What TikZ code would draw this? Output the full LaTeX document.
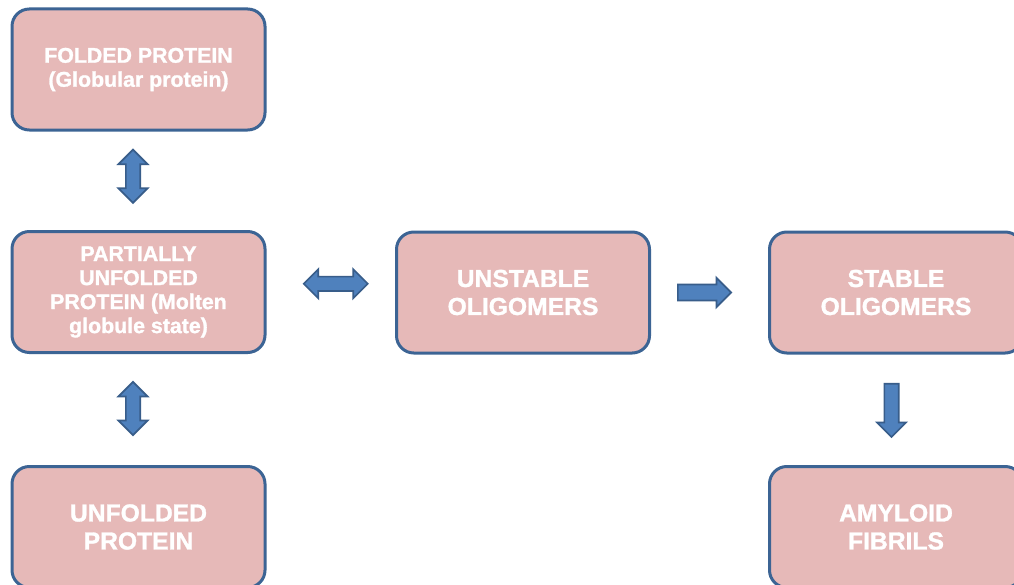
\documentclass[tikz,border=0pt]{standalone}
\usepackage{fontspec}
\setmainfont{Liberation Sans}[BoldFeatures={FakeBold=1.3}]
\usetikzlibrary{shapes.arrows,calc}
\definecolor{boxfill}{HTML}{E6B9B8}
\definecolor{boxline}{HTML}{3C6494}
\definecolor{arrfill}{HTML}{4F81BD}
\definecolor{arrline}{HTML}{385D8A}
\begin{document}
\begin{tikzpicture}[x=0.75pt,y=-0.75pt,
  stagebox/.style={draw=boxline, fill=boxfill, line width=2.25pt, rounded corners=13pt,
    minimum width=189.75pt, minimum height=90.75pt, inner sep=0pt, align=center,
    text=white, font=\bfseries\fontsize{16}{18}\selectfont},
  bigtext/.style={font=\bfseries\fontsize{18.5}{21}\selectfont},
  blockarrow/.style={draw=arrline, fill=arrfill, line width=1.3pt, inner sep=0pt,
    inner ysep=4.7pt, minimum height=40pt},
  dblarrow/.style={blockarrow, double arrow, double arrow head extend=5.6pt},
  sglarrow/.style={blockarrow, single arrow, single arrow head extend=5.6pt}
]
\useasboundingbox (0,0) rectangle (1014,585);
\fill[white] (0,0) rectangle (1014,585);
\clip (0,0) rectangle (1014,585);

\node[stagebox] (folded) at (138.5,69.5) {FOLDED PROTEIN\\(Globular protein)};
\node[stagebox] (partial) at (138.5,292) {PARTIALLY\\UNFOLDED\\PROTEIN (Molten\\globule state)};
\node[stagebox, bigtext] (unfolded) at (138.5,527) {UNFOLDED\\PROTEIN};
\node[stagebox, bigtext] (unstable) at (523,292.5) {UNSTABLE\\OLIGOMERS};
\node[stagebox, bigtext] (stable) at (896,292.5) {STABLE\\OLIGOMERS};
\node[stagebox, bigtext] (amyloid) at (896,527) {AMYLOID\\FIBRILS};

\node[dblarrow, rotate=90] (a1) at ($(folded.south)!0.5!(partial.north)+(-5.5,-4.5)$) {};
\node[dblarrow, rotate=90] (a2) at ($(partial.south)!0.5!(unfolded.north)+(-5.5,-1)$) {};
\node[dblarrow, minimum height=48pt] (a3) at ($(partial.east)!0.5!(unstable.west)+(5,-8.5)$) {};
\node[sglarrow, inner ysep=5.4pt, single arrow head extend=5pt] (a4) at ($(unstable.east)!0.5!(stable.west)+(-9,0)$) {};
\node[sglarrow, rotate=-90] (a5) at ($(stable.south)!0.5!(amyloid.north)+(-4.5,-3)$) {};
\end{tikzpicture}
\end{document}
